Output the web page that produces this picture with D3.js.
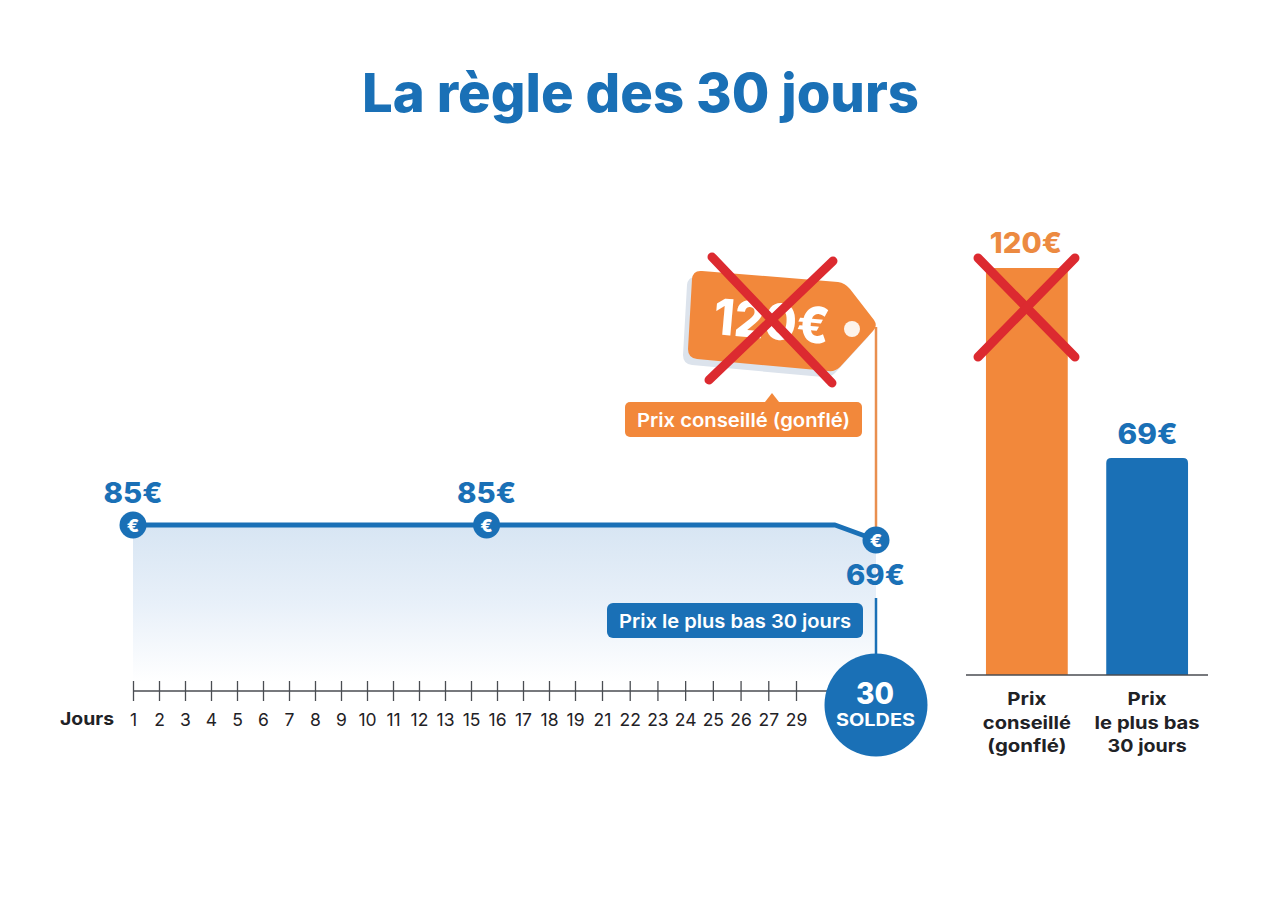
<!DOCTYPE html>
<html lang="fr">
<head>
<meta charset="utf-8">
<title>La règle des 30 jours</title>
<script src="https://cdn.jsdelivr.net/npm/d3@7"></script>
<style>
  html, body { margin: 0; background: #fff; }
  svg { display: block; font-family: Inter, "Open Sans", sans-serif; }
</style>
</head>
<body>
<svg id="chart" width="1280" height="900"></svg>
<script>
// Price history over the 30-day window
const priceDays = [1, 14.8, 28.4, 30];
const priceValues = [85, 85, 85, 69];
const markedPoints = [0, 1, 3];

// Day labels printed under the timeline
const dayLabels = [1, 2, 3, 4, 5, 6, 7, 8, 9, 10, 11, 12, 13, 15, 16, 17, 18, 19, 21, 22, 23, 24, 25, 26, 27, 29];

// Comparison bars
const barCategories = ["Prix conseillé (gonflé)", "Prix le plus bas 30 jours"];
const barValues = [120, 69];
const barLabelLines = [["Prix", "conseillé", "(gonflé)"], ["Prix", "le plus bas", "30 jours"]];

const inflatedPrice = 120;
const BLUE = "#1a70b6", ORANGE = "#f2883b", ORANGE_TEXT = "#ec8a41", RED = "#dc2a30", INK = "#1f2226", AXIS = "#4a4d52";

const svg = d3.select("#chart");
const euro = v => `${v}€`;

// Text with a fixed drawn width, so the wide headline lettering keeps its extent
function label(parent, str, x, y, size, weight, fill, width) {
  const t = parent.append("text")
    .attr("x", x).attr("y", y)
    .attr("text-anchor", "middle")
    .attr("font-size", size).attr("font-weight", weight)
    .attr("fill", fill).text(str);
  if (width) t.attr("textLength", width).attr("lengthAdjust", "spacingAndGlyphs");
  return t;
}

function cross(parent, a, b) {
  const g = parent.append("g")
    .attr("stroke", RED).attr("stroke-width", 9).attr("stroke-linecap", "round");
  [a, b].forEach(s => g.append("line").attr("x1", s[0]).attr("y1", s[1]).attr("x2", s[2]).attr("y2", s[3]));
}

// Title
label(svg, "La règle des 30 jours", 640.5, 112, 54, 800, BLUE, 557);

// Scales for the timeline
const xDay = d3.scaleLinear().domain([1, 30]).range([133, 876]);
const yPrice = d3.scaleLinear().domain([69, 85]).range([540, 525]);
const xTick = d3.scaleLinear().domain([0, 17, 18, 25]).range([133, 575, 602, 796]);
const line = priceDays.map((d, i) => [xDay(d), yPrice(priceValues[i])]);

// Fading area under the price line
const defs = svg.append("defs");
const grad = defs.append("linearGradient").attr("id", "areaFade")
  .attr("gradientUnits", "userSpaceOnUse")
  .attr("x1", 0).attr("x2", 0).attr("y1", 525).attr("y2", 682);
grad.append("stop").attr("offset", 0).attr("stop-color", "#d7e5f3");
grad.append("stop").attr("offset", 0.5).attr("stop-color", "#e8f0f9");
grad.append("stop").attr("offset", 1).attr("stop-color", "#ffffff");

svg.append("path")
  .attr("fill", "url(#areaFade)")
  .attr("d", d3.area().x(d => d[0]).y0(682).y1(d => d[1])(line));

// Day axis
const axis = svg.append("g").attr("transform", "translate(0,691)")
  .call(d3.axisBottom(xTick)
    .tickValues(d3.range(dayLabels.length))
    .tickSize(10)
    .tickPadding(13)
    .tickFormat(i => dayLabels[i]));
axis.select(".domain").remove();
axis.selectAll(".tick line").attr("y1", -10).attr("y2", 10).attr("stroke", AXIS).attr("stroke-width", 1.3);
axis.selectAll(".tick text")
  .attr("font-family", "Inter, sans-serif").attr("font-size", 17.5).attr("font-weight", 400).attr("fill", INK);
axis.append("line").attr("x1", 133).attr("x2", 835).attr("stroke", AXIS).attr("stroke-width", 1.5);
label(svg, "Jours", 87, 725, 18, 700, INK, 54);

// Connectors between the annotations and the last day
svg.append("line").attr("x1", 876).attr("x2", 876).attr("y1", 327).attr("y2", 530)
  .attr("stroke", "#e98f4f").attr("stroke-width", 2.5);
svg.append("line").attr("x1", 876).attr("x2", 876).attr("y1", 598).attr("y2", 660)
  .attr("stroke", BLUE).attr("stroke-width", 2.5);

// Price line and markers
svg.append("path")
  .attr("fill", "none").attr("stroke", BLUE).attr("stroke-width", 5)
  .attr("stroke-linejoin", "round")
  .attr("d", d3.line()(line));

const marks = svg.selectAll("g.mark").data(markedPoints).join("g")
  .attr("class", "mark")
  .attr("transform", i => `translate(${line[i][0]},${line[i][1]})`);
marks.append("circle").attr("r", 13.5).attr("fill", BLUE);
marks.append("text")
  .attr("text-anchor", "middle").attr("y", 6.5)
  .attr("font-size", 18).attr("font-weight", 800).attr("fill", "#fff").text("€");

markedPoints.forEach(i => {
  const below = i === markedPoints[2];
  label(svg, euro(priceValues[i]), line[i][0] - (below ? 0.5 : 0), below ? 585 : 503, 28, 800, BLUE, 59);
});

// Lowest-price badge
svg.append("rect").attr("x", 607).attr("y", 603).attr("width", 256).attr("height", 35)
  .attr("rx", 6).attr("fill", BLUE);
label(svg, "Prix le plus bas 30 jours", 735, 628, 19, 600, "#fff", 232);

// Day 30 disc
svg.append("circle").attr("cx", 876).attr("cy", 705).attr("r", 51.5).attr("fill", BLUE);
label(svg, "30", 875, 704, 30, 800, "#fff", 38);
label(svg, "SOLDES", 875.5, 726, 17, 700, "#fff", 79);

// Inflated price tag
const tagPath = "M702,271 L838,282 Q845,283 850,289 L874,320 Q878,326 873,331 L840,367 Q835,372 828,371 L697,359 Q688,358 688,349 L692,279 Q693,270 702,271 Z";
svg.append("path").attr("d", tagPath).attr("fill", "#dce3ec").attr("transform", "translate(-5,6)");
svg.append("path").attr("d", tagPath).attr("fill", ORANGE);
svg.append("circle").attr("cx", 852).attr("cy", 329).attr("r", 8).attr("fill", "#fdf3ea");
label(svg, euro(inflatedPrice), 0, 0, 50, 800, "#fff", 116)
  .attr("transform", "translate(770,339) rotate(5)");
cross(svg, [712, 257, 832, 383], [833, 261, 709, 380]);

// Recommended-price callout
svg.append("path").attr("d", "M765,402 L772,393 L779,402 Z").attr("fill", ORANGE);
svg.append("rect").attr("x", 625).attr("y", 402).attr("width", 237).attr("height", 35)
  .attr("rx", 5).attr("fill", ORANGE);
label(svg, "Prix conseillé (gonflé)", 743.5, 427, 19, 600, "#fff", 213);

// Comparison bars
const xBar = d3.scaleBand().domain(barCategories).range([966, 1208]).paddingInner(0.32).paddingOuter(0.166);
const yBar = d3.scaleLinear().domain([10.75, 120]).range([675, 268]);
const barLabelWidths = [[39, 88, 79], [39, 105, 79]];

barCategories.forEach((c, i) => {
  const v = barValues[i], x = xBar(c), w = xBar.bandwidth(), top = yBar(v), base = yBar.range()[0];
  const r = i === 1 ? 5 : 0;
  svg.append("path")
    .attr("fill", i === 0 ? ORANGE : BLUE)
    .attr("d", `M${x},${base}V${top + r}Q${x},${top} ${x + r},${top}H${x + w - r}Q${x + w},${top} ${x + w},${top + r}V${base}Z`);
  label(svg, euro(v), x + w / 2 - (i === 0 ? 1 : -0.5), top - (i === 0 ? 15 : 14), 28, 800, i === 0 ? ORANGE_TEXT : BLUE, i === 0 ? 72 : 60);
  barLabelLines[i].forEach((t, j) => {
    label(svg, t, x + w / 2, 705 + j * 23.5, 17.5, 700, INK, barLabelWidths[i][j]);
  });
});
svg.append("line").attr("x1", 966).attr("x2", 1208).attr("y1", 675).attr("y2", 675)
  .attr("stroke", AXIS).attr("stroke-width", 1.5);

cross(svg, [978, 258, 1075, 357], [1075, 258, 978, 357]);
</script>
</body>
</html>
